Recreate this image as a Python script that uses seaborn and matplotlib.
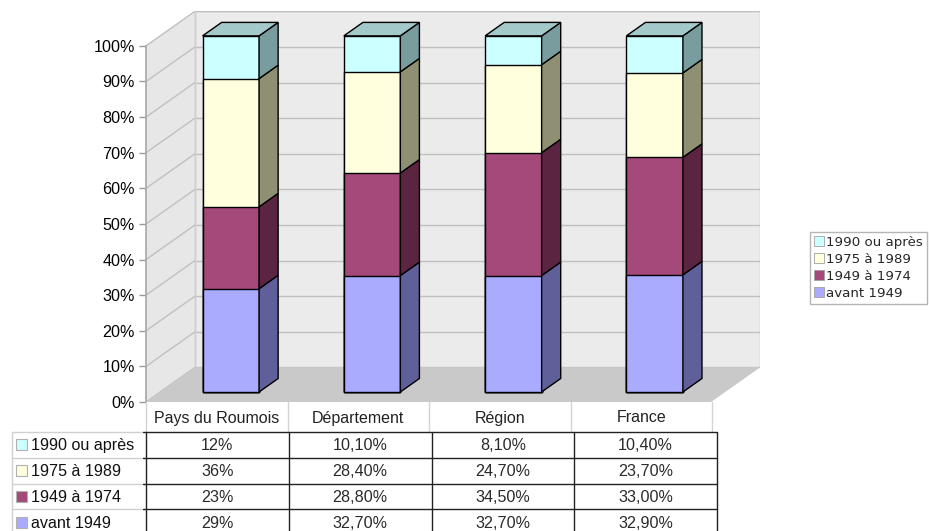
import matplotlib
matplotlib.use("Agg")
import matplotlib.pyplot as plt
import matplotlib.transforms as mtransforms
from matplotlib.patches import Polygon, Rectangle, Patch
from matplotlib.ticker import FuncFormatter
import numpy as np
import seaborn as sns

# ---- data -------------------------------------------------------------
categories = ["Pays du Roumois", "Département", "Région", "France"]
series = ["avant 1949", "1949 à 1974", "1975 à 1989", "1990 ou après"]
avant_1949 = [29.0, 32.7, 32.7, 32.9]
de_1949_a_1974 = [23.0, 28.8, 34.5, 33.0]
de_1975_a_1989 = [36.0, 28.4, 24.7, 23.7]
apres_1990 = [12.0, 10.1, 8.1, 10.4]
label_decimals = [0, 2, 2, 2]
y_ticks = list(range(0, 101, 10))

values = [avant_1949, de_1949_a_1974, de_1975_a_1989, apres_1990]

# ---- styling ----------------------------------------------------------
front_colors = ["#aaaaff", "#a4497a", "#ffffdd", "#ccffff"]
side_colors = ["#5f5f99", "#5b2541", "#8f8f74", "#799d9e"]
top_color = "#a4c9ca"

sns.set_theme(style="white")
plt.rcParams["font.family"] = ["Liberation Sans", "DejaVu Sans"]

W, H = 930, 531
fig = plt.figure(figsize=(W / 100, H / 100), dpi=100)
fig.patch.set_facecolor("white")

# pseudo-3D box geometry (data units)
DX, DY = 0.346, 9.7            # depth of the whole box
F_FRONT, F_BACK = 0.29, 0.68   # depth range occupied by the bars
BAR_W = 0.40
ox, oy = F_FRONT * DX, F_FRONT * DY
bx, by = F_BACK * DX, F_BACK * DY

left_px, right_px, bottom_px, top_px = 146, 760, 402, 11
ax = fig.add_axes([left_px / W, 1 - bottom_px / H,
                   (right_px - left_px) / W, (bottom_px - top_px) / H])

# ---- walls and floor --------------------------------------------------
x0, x1 = -0.5, len(categories) - 0.5
wall_grid = "#c0c0c0"
ax.add_patch(Polygon([(x0, 0), (x0 + DX, DY), (x0 + DX, 100 + DY), (x0, 100)],
                     closed=True, facecolor="#e7e7e7", edgecolor="none", zorder=0))
ax.add_patch(Rectangle((x0 + DX, DY), x1 - x0, 100, facecolor="#ebebeb",
                       edgecolor="#c4c4c4", lw=1, zorder=0))
ax.add_patch(Polygon([(x0, 0), (x1, 0), (x1 + DX, DY), (x0 + DX, DY)],
                     closed=True, facecolor="#c9c9c9", edgecolor="none", zorder=0.5))
for t in y_ticks:
    ax.plot([x0, x0 + DX], [t, t + DY], color=wall_grid, lw=1, zorder=0.2)
    if t > 0:
        ax.plot([x0 + DX, x1 + DX], [t + DY, t + DY], color=wall_grid, lw=1, zorder=0.2)
ax.plot([x0 + DX, x0 + DX], [DY, 100 + DY], color="#cfcfcf", lw=1, zorder=0.3)

# ---- bars: front faces stacked with seaborn ---------------------------
cum = np.cumsum(np.array(values), axis=0)
for k in range(len(series) - 1, -1, -1):
    sns.barplot(x=categories, y=cum[k], order=categories, color=front_colors[k],
                saturation=1, width=BAR_W, edgecolor="black", linewidth=1,
                ax=ax, zorder=3)
shift = mtransforms.Affine2D().translate(ox, oy) + ax.transData
for cont in ax.containers:
    for bar in cont:
        bar.set_transform(shift)

# side and top faces derived from the same stacked values
for i in range(len(categories)):
    xl, xr = i - BAR_W / 2, i + BAR_W / 2
    lo = 0.0
    for k in range(len(series)):
        hi = cum[k][i]
        ax.add_patch(Polygon([(xr + ox, lo + oy), (xr + bx, lo + by),
                              (xr + bx, hi + by), (xr + ox, hi + oy)],
                             closed=True, facecolor=side_colors[k],
                             edgecolor="black", lw=1, zorder=3))
        lo = hi
    ax.add_patch(Polygon([(xl + ox, lo + oy), (xr + ox, lo + oy),
                          (xr + bx, lo + by), (xl + bx, lo + by)],
                         closed=True, facecolor=top_color,
                         edgecolor="black", lw=1, zorder=3))

# ---- axes -------------------------------------------------------------
ax.set_xlim(x0, x1 + DX)
ax.set_ylim(0, 100 + DY * 1.01)
ax.set_xticks([])
ax.set_xlabel("")
ax.set_ylabel("")
ax.set_yticks(y_ticks)
ax.yaxis.set_major_formatter(FuncFormatter(lambda v, p: f"{v:.0f}%"))
ax.tick_params(axis="y", left=True, length=5, width=1, color="#999999",
               labelsize=11.6, pad=3, labelcolor="#000000")
for s in ["top", "right", "bottom"]:
    ax.spines[s].set_visible(False)
ax.spines["left"].set_color("#aaaaaa")
ax.spines["left"].set_bounds(0, 100)
ax.patch.set_alpha(0)
ax.grid(False)

# ---- data table -------------------------------------------------------
tb = fig.add_axes([0, 0, 1, 1])
tb.set_xlim(0, W)
tb.set_ylim(H, 0)
tb.axis("off")

col_edges = np.linspace(146, 717, len(categories) + 1)
head_edges = np.linspace(146, 712, len(categories) + 1)
head_top, head_bot = 402, 432
row_h = 25.8
for j, name in enumerate(categories):
    tb.text((head_edges[j] + head_edges[j + 1]) / 2, (head_top + head_bot) / 2 + 1, name,
            ha="center", va="center", fontsize=11.5, color="#222222")
for xe in head_edges:
    tb.plot([xe, xe], [head_top, head_bot], color="#d4d4d4", lw=1)

row_series = list(range(len(series) - 1, -1, -1))
n_rows = len(row_series)
row_tops = [head_bot + r * row_h for r in range(n_rows + 1)]
for r, k in enumerate(row_series):
    yc = row_tops[r] + row_h / 2
    tb.add_patch(Rectangle((16, yc - 5.5), 11, 11, facecolor=front_colors[k],
                           edgecolor="#b0b0b0", lw=0.8))
    tb.text(31, yc + 1, series[k], ha="left", va="center", fontsize=11.6,
            color="#111111")
    for j in range(len(categories)):
        v = values[k][j]
        lab = f"{v:.{label_decimals[j]}f}".replace(".", ",") + "%"
        tb.text((col_edges[j] + col_edges[j + 1]) / 2, yc + 1, lab,
                ha="center", va="center", fontsize=11.6, color="#2a2a2a")
    tb.plot([12, 146], [row_tops[r], row_tops[r]], color="#d0d0d0", lw=1)
    tb.plot([143, 717], [row_tops[r], row_tops[r]], color="#222222", lw=1)
tb.plot([12, 12], [head_bot, H], color="#d0d0d0", lw=1)
for xe in col_edges:
    tb.plot([xe, xe], [head_bot, H], color="#222222", lw=1)

# ---- legend -----------------------------------------------------------
handles = [Patch(facecolor=front_colors[k], edgecolor="#a0a0a0", lw=0.6,
                 label=series[k]) for k in row_series]
fig.legend(handles=handles, loc="upper left",
           bbox_to_anchor=(810 / W, 1 - 232 / H), bbox_transform=fig.transFigure,
           frameon=True, fancybox=False, edgecolor="#b5b5b5", framealpha=1,
           prop={"family": "DejaVu Sans", "size": 9.6}, handlelength=0.75,
           handleheight=0.75, handletextpad=0.15, labelspacing=0.3,
           borderpad=0.3, borderaxespad=0)

fig.savefig("out.png", dpi=100, facecolor="white")
